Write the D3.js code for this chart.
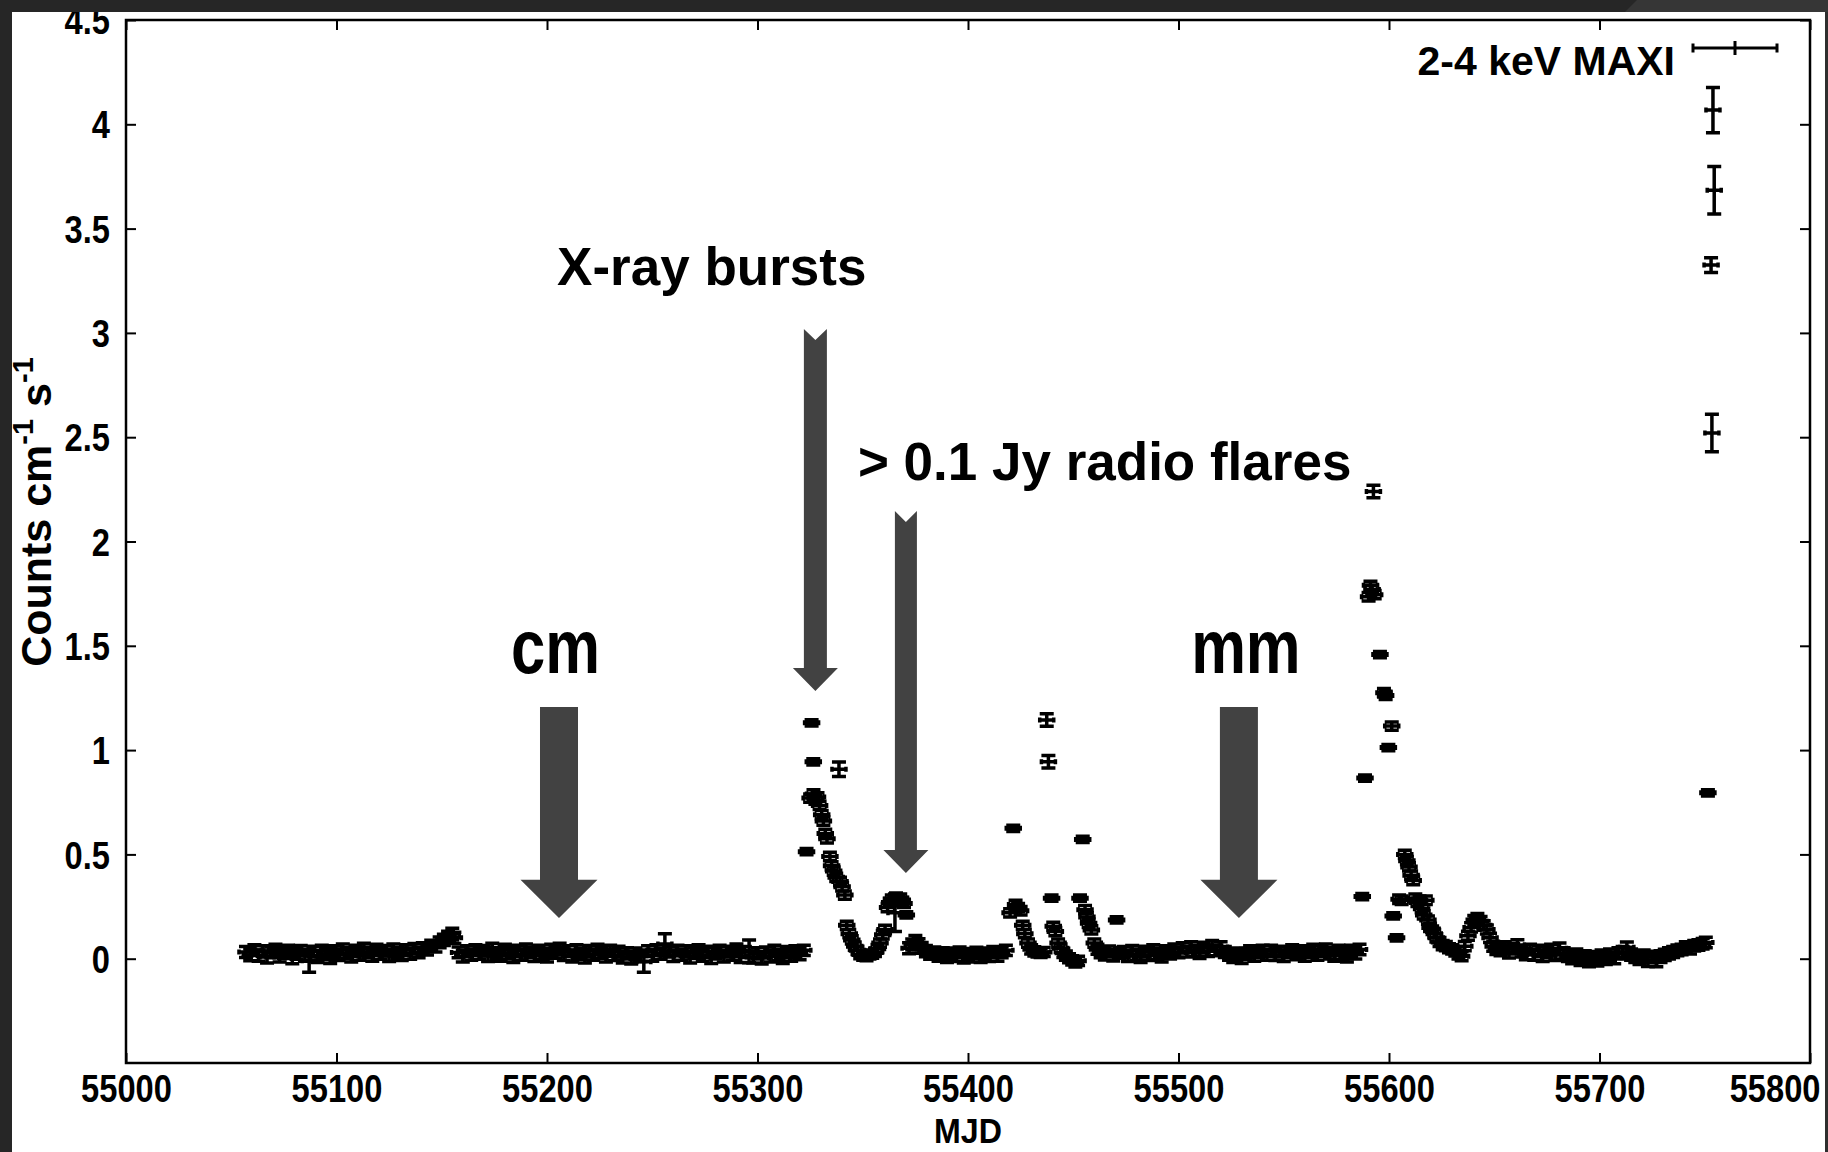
<!DOCTYPE html>
<html>
<head>
<meta charset="utf-8">
<script src="https://cdn.jsdelivr.net/npm/d3@7"></script>
<style>
  body { margin: 0; background: #262626; }
  svg { display: block; }
  text { font-family: "Liberation Sans", Arial, sans-serif; font-weight: bold; fill: #000; }
</style>
</head>
<body>
<svg id="chart"></svg>
<script>
const W = 1828;
const H = 1152;

// [MJD, rate, error]
const quiet1 = [
  [55057, .032, .026], [55059, .018, .028], [55061, .042, .025], [55063, .015, .027],
  [55065, .036, .026], [55067, .008, .029], [55069, .030, .026], [55071, .045, .024],
  [55073, .012, .028], [55075, .028, .027], [55077, .040, .025], [55079, .005, .029],
  [55081, .024, .027], [55083, .038, .025], [55085, .016, .028], [55087, -.010, .055],
  [55089, .034, .026], [55091, .010, .028], [55093, .040, .025], [55095, .022, .027],
  [55097, .006, .029], [55099, .036, .026], [55101, .018, .027], [55103, .046, .024],
  [55105, .026, .026], [55107, .012, .028], [55109, .040, .025], [55111, .020, .027],
  [55113, .050, .024], [55115, .030, .026], [55117, .016, .028], [55119, .044, .025],
  [55121, .024, .027], [55123, .038, .025], [55125, .014, .028], [55127, .046, .025],
  [55129, .028, .026], [55131, .018, .027], [55133, .042, .025], [55135, .024, .027],
  [55137, .048, .025], [55139, .030, .026], [55141, .052, .025], [55143, .044, .026],
  [55145, .064, .025], [55147, .058, .026], [55149, .078, .026], [55151, .090, .027],
  [55153, .104, .027], [55155, .118, .028], [55156, .100, .027], [55158, .030, .026],
  [55160, .012, .028], [55162, .036, .026], [55164, .020, .027], [55166, .042, .025],
  [55168, .024, .027], [55170, .038, .025], [55172, .014, .028], [55174, .052, .022],
  [55176, .028, .026], [55178, .016, .028], [55180, .044, .025], [55182, .026, .027],
  [55184, .010, .028], [55186, .040, .025], [55188, .020, .027], [55190, .046, .025],
  [55192, .030, .026], [55194, .015, .028], [55196, .040, .025], [55198, .024, .027],
  [55200, .012, .028], [55202, .044, .025], [55204, .028, .026], [55206, .050, .024],
  [55208, .018, .027], [55210, .036, .026], [55212, .012, .028], [55214, .042, .025],
  [55216, .024, .027], [55218, .008, .029], [55220, .038, .025], [55222, .020, .027],
  [55224, .044, .025], [55226, .028, .026], [55228, .012, .028], [55230, .040, .025],
  [55232, .018, .027], [55234, .034, .026], [55236, .008, .029], [55238, .026, .027],
  [55240, .004, .029], [55242, .024, .027], [55244, .014, .028], [55246, -.015, .050],
  [55248, .036, .026], [55250, .016, .028], [55252, .042, .025], [55254, .024, .027],
  [55256, .070, .050], [55258, .034, .026], [55260, .014, .028], [55262, .040, .025],
  [55264, .020, .027], [55266, .036, .026], [55268, .008, .029], [55270, .028, .027],
  [55272, .042, .025], [55274, .016, .028], [55276, .034, .026], [55278, .006, .029],
  [55280, .026, .027], [55282, .040, .025], [55284, .012, .028], [55286, .034, .026],
  [55288, .020, .027], [55290, .046, .025], [55292, .010, .028], [55294, .032, .026],
  [55296, .035, .055], [55298, .008, .029], [55300, .026, .027], [55302, .004, .029],
  [55304, .030, .026], [55306, .012, .028], [55308, .040, .025], [55310, .020, .027],
  [55312, .006, .029], [55314, .032, .026], [55316, .016, .028], [55318, .036, .026],
  [55320, .022, .027], [55322, .040, .025]
];

const burst1 = [
  [55323.3, .513, .015], [55325.0, .770, .020], [55325.7, 1.131, .015], [55326.5, .944, .015],
  [55326.6, .790, .020], [55327.5, .760, .020], [55328.5, .775, .020], [55329.5, .735, .020],
  [55330.5, .690, .020], [55331.3, .660, .020], [55332.2, .600, .020], [55333.0, .575, .020],
  [55334.4, .490, .020], [55335.2, .445, .020], [55336.2, .420, .020], [55337.4, .390, .020],
  [55338.7, .908, .035], [55339.2, .370, .020], [55340.2, .345, .020], [55341.5, .305, .020],
  [55342.4, .160, .020], [55343.6, .120, .020], [55344.8, .090, .020], [55346.2, .060, .020],
  [55347.5, .040, .020], [55348.8, .020, .020], [55350.2, .012, .020], [55351.8, .010, .020],
  [55353.2, .018, .020], [55354.5, .022, .020], [55355.8, .030, .020], [55357.0, .048, .020],
  [55358.2, .075, .020], [55359.5, .115, .020], [55360.6, .140, .020], [55361.8, .245, .020],
  [55362.8, .270, .020], [55363.8, .285, .020], [55365.3, .220, .090], [55365.8, .295, .020],
  [55366.8, .280, .020], [55367.8, .290, .020], [55368.8, .275, .020], [55369.6, .265, .020],
  [55370.7, .210, .015]
];

const quiet2 = [
  [55372.0, .050, .026], [55373.5, .068, .026], [55375, .085, .026], [55376.5, .070, .026],
  [55378, .052, .026], [55380, .036, .027], [55382, .024, .027], [55384, .030, .026],
  [55386, .016, .028], [55388, .026, .027], [55390, .010, .028], [55392, .024, .027],
  [55394, .014, .028], [55396, .030, .026], [55398, .008, .029], [55400, .022, .027],
  [55402, .012, .028], [55404, .028, .027], [55406, .010, .028], [55408, .024, .027],
  [55410, .014, .028], [55412, .032, .026], [55414, .016, .028], [55416, .030, .026],
  [55418, .040, .025]
];

const flares = [
  [55420.0, .220, .020], [55421.5, .625, .015], [55422.6, .260, .020], [55423.8, .245, .020],
  [55425.0, .230, .020], [55426.0, .160, .020], [55427.0, .120, .020], [55428.5, .075, .020],
  [55430, .045, .022], [55431.5, .035, .022], [55433, .030, .022], [55434.5, .028, .022],
  [55436, .032, .022], [55437.4, 1.144, .030], [55438.2, .944, .030], [55439.7, .290, .015],
  [55440.5, .155, .020], [55441.5, .130, .020], [55442.8, .075, .020], [55444, .050, .020],
  [55445.3, .028, .022], [55446.5, .015, .022], [55448, .002, .022], [55449.5, -.008, .022],
  [55451, -.018, .022], [55452.3, -.010, .022], [55453.2, .290, .015], [55454.5, .572, .015],
  [55455.6, .235, .020], [55456.5, .200, .020], [55457.3, .170, .020], [55458.6, .138, .020],
  [55460, .075, .020], [55461.5, .045, .024], [55463, .030, .025], [55465, .020, .026],
  [55467, .036, .025], [55469, .016, .027], [55470.6, .186, .015], [55472, .028, .026]
];

const quiet3 = [
  [55474, .032, .026], [55476, .014, .028], [55478, .038, .025], [55480, .020, .027],
  [55482, .010, .028], [55484, .034, .026], [55486, .018, .027], [55488, .042, .025],
  [55490, .024, .027], [55492, .012, .028], [55494, .036, .026], [55496, .026, .027],
  [55498, .046, .025], [55500, .030, .026], [55502, .052, .025], [55504, .034, .026],
  [55506, .056, .025], [55508, .038, .026], [55510, .028, .027], [55512, .054, .025],
  [55514, .036, .026], [55516, .062, .025], [55518, .040, .026], [55520, .056, .025],
  [55522, .032, .026], [55524, .020, .027], [55526, .010, .028], [55528, .024, .027],
  [55530, .006, .029], [55532, .022, .027], [55534, .036, .026], [55536, .016, .028],
  [55538, .030, .026], [55540, .040, .025], [55542, .020, .027], [55544, .038, .026],
  [55546, .018, .027], [55548, .034, .026], [55550, .014, .028], [55552, .030, .026],
  [55554, .042, .025], [55556, .022, .027], [55558, .036, .026], [55560, .016, .028],
  [55562, .032, .026], [55564, .044, .025], [55566, .020, .027], [55568, .036, .026],
  [55570, .046, .025], [55572, .026, .027], [55574, .016, .028], [55576, .040, .025],
  [55578, .024, .027], [55580, .012, .028], [55582, .038, .026], [55584, .026, .027],
  [55586, .044, .025]
];

const burst2 = [
  [55587.3, .298, .015], [55588.6, .866, .015], [55590.3, 1.735, .020], [55591.2, 1.790, .020],
  [55592.0, 1.770, .020], [55592.6, 2.240, .030], [55593.2, 1.745, .020], [55595.7, 1.458, .015],
  [55597.6, 1.275, .020], [55598.4, 1.262, .020], [55599.7, 1.012, .015], [55601.3, 1.115, .020],
  [55602.0, .205, .015], [55603.6, .100, .015], [55604.8, .285, .020], [55606, .280, .020],
  [55607.5, .500, .020], [55608.5, .470, .020], [55609.5, .440, .020], [55610.5, .400, .020],
  [55611.5, .375, .020], [55612.5, .290, .020], [55613.5, .270, .020], [55614.5, .280, .020],
  [55615.5, .240, .020], [55616.5, .210, .020], [55617.5, .280, .020], [55618.5, .185, .020],
  [55619.5, .150, .020], [55620.5, .142, .015], [55621.5, .120, .020], [55622.5, .100, .020],
  [55624, .080, .022], [55625.5, .065, .022], [55627, .060, .022], [55628.5, .050, .022],
  [55630, .045, .022], [55631.5, .035, .022], [55633, .020, .022], [55634.5, .012, .022],
  [55636, .060, .022], [55637.5, .110, .022], [55639, .150, .022], [55640.5, .185, .022],
  [55642, .195, .022], [55643.5, .180, .022], [55645, .160, .022], [55646.5, .140, .022],
  [55648, .100, .022], [55649.5, .060, .024], [55651, .045, .025]
];

const tail = [
  [55653, .040, .026], [55655, .056, .025], [55657, .030, .027], [55659, .048, .025],
  [55661, .066, .025], [55663, .034, .026], [55665, .022, .027], [55667, .044, .025],
  [55669, .020, .027], [55671, .038, .026], [55673, .014, .028], [55675, .030, .026],
  [55677, .044, .025], [55679, .018, .027], [55681, .050, .025], [55683, .026, .027],
  [55685, .014, .028], [55687, .004, .028], [55689, .020, .027], [55691, -.004, .028],
  [55693, .010, .028], [55695, -.010, .029], [55697, .006, .028], [55699, -.006, .029],
  [55701, .014, .028], [55703, .000, .028], [55705, .020, .027], [55707, .004, .028],
  [55709, .026, .027], [55711, .032, .026], [55713, .055, .025], [55715, .020, .027],
  [55717, .010, .028], [55719, .000, .028], [55721, .014, .028], [55723, -.008, .029],
  [55725, .008, .028], [55727, -.010, .029], [55729, .010, .028], [55731, .018, .027],
  [55733, .026, .027], [55735, .032, .026], [55737, .040, .026], [55739, .044, .025],
  [55741, .056, .025], [55743, .048, .025], [55745, .062, .025], [55747, .066, .025],
  [55749, .072, .025], [55750.5, .078, .025]
];

const outburst = [
  [55751.5, .795, .015], [55753.4, 2.520, .090], [55753.0, 3.325, .035],
  [55753.9, 4.068, .109], [55754.5, 3.684, .114]
];

const xTicks = [55000, 55100, 55200, 55300, 55400, 55500, 55600, 55700, 55800];
const yTicks = [0, 0.5, 1, 1.5, 2, 2.5, 3, 3.5, 4, 4.5];

// annotation arrows, in data units
const arrows = [
  { t: 55327.5, top: 3.019, neck: 1.394, tip: 1.283, shaft: 11.5, head: 22.5, notch: 11 },
  { t: 55370.5, top: 2.146, neck: 0.521, tip: 0.411, shaft: 11, head: 22.5, notch: 11 },
  { t: 55205.7, top: 1.207, neck: 0.378, tip: 0.195, shaft: 19, head: 38.5, notch: 0 },
  { t: 55528.7, top: 1.207, neck: 0.378, tip: 0.195, shaft: 19, head: 38.5, notch: 0 }
];

const svg = d3.select('#chart').attr('width', W).attr('height', H);

const x = d3.scaleLinear().domain([55000, 55800]).range([126, 1810]);
const y = d3.scaleLinear().domain([-0.5, 4.5]).range([1063, 20]);

// white page
svg.append('rect')
  .attr('x', 12).attr('y', 12)
  .attr('width', 1813).attr('height', H - 12)
  .attr('fill', '#fff');

// arrows first, data sits on top
svg.append('g')
  .selectAll('polygon')
  .data(arrows)
  .join('polygon')
  .attr('fill', '#424242')
  .attr('points', d => {
    const cx = x(d.t);
    const yt = y(d.top), yn = y(d.neck), yp = y(d.tip);
    return [
      [cx - d.shaft, yt], [cx, yt + d.notch], [cx + d.shaft, yt],
      [cx + d.shaft, yn], [cx + d.head, yn], [cx, yp],
      [cx - d.head, yn], [cx - d.shaft, yn]
    ].join(' ');
  });

// axes
const axisStyle = g => {
  g.select('.domain').remove();
  g.selectAll('.tick line').attr('stroke', '#000').attr('stroke-width', 2);
};

const narrow = 0.86;

svg.append('g')
  .attr('transform', 'translate(0,1063)')
  .call(d3.axisBottom(x).tickValues(xTicks).tickSize(-10).tickFormat(d3.format('d')))
  .call(axisStyle)
  .call(g => g.selectAll('.tick text')
    .attr('y', 39).attr('dy', 0)
    .attr('font-size', 38)
    .attr('fill', '#000')
    .attr('font-family', '"Liberation Sans", Arial, sans-serif')
    .attr('font-weight', 'bold')
    .attr('transform', `scale(${narrow},1)`))
  .call(g => g.selectAll('.tick:last-of-type text')
    .attr('text-anchor', 'end')
    .attr('x', 10 / narrow));

svg.append('g')
  .attr('transform', 'translate(0,20)')
  .call(d3.axisTop(x).tickValues(xTicks).tickSize(-10).tickFormat(''))
  .call(axisStyle);

svg.append('g')
  .attr('transform', 'translate(126,0)')
  .call(d3.axisLeft(y).tickValues(yTicks).tickSize(-10).tickFormat(d => String(d)))
  .call(axisStyle)
  .call(g => g.selectAll('.tick text')
    .attr('x', -16 / narrow).attr('dy', '0.36em')
    .attr('font-size', 38)
    .attr('fill', '#000')
    .attr('font-family', '"Liberation Sans", Arial, sans-serif')
    .attr('font-weight', 'bold')
    .attr('transform', `scale(${narrow},1)`));

svg.append('g')
  .attr('transform', 'translate(1810,0)')
  .call(d3.axisRight(y).tickValues(yTicks).tickSize(-10).tickFormat(''))
  .call(axisStyle);

// frame
svg.append('rect')
  .attr('x', x(55000)).attr('y', y(4.5))
  .attr('width', x(55800) - x(55000))
  .attr('height', y(-0.5) - y(4.5))
  .attr('fill', 'none')
  .attr('stroke', '#000')
  .attr('stroke-width', 2.5);

// error bar points
const cap = 7;
const xbar = 7;
const xcap = 2.5;
const errBar = (cx, cy, lo, hi) =>
  `M${cx},${lo}V${hi}` +
  `M${cx - cap},${lo}H${cx + cap}M${cx - cap},${hi}H${cx + cap}` +
  `M${cx - xbar},${cy}H${cx + xbar}` +
  `M${cx - xbar},${cy - xcap}V${cy + xcap}M${cx + xbar},${cy - xcap}V${cy + xcap}`;

const points = [].concat(quiet1, burst1, quiet2, flares, quiet3, burst2, tail, outburst)
  .map(([t, v, e]) => ({ t, v, e }));

svg.append('g')
  .selectAll('path')
  .data(points)
  .join('path')
  .attr('d', d => errBar(x(d.t), y(d.v), y(d.v - d.e), y(d.v + d.e)))
  .attr('fill', 'none')
  .attr('stroke', '#000')
  .attr('stroke-width', 3.5);

// legend
svg.append('text')
  .attr('x', 1675).attr('y', 75)
  .attr('text-anchor', 'end')
  .attr('font-size', 41)
  .text('2-4 keV MAXI');

svg.append('path')
  .attr('d', 'M1693,48H1777M1693,43.5V52.5M1777,43.5V52.5M1735,41V55')
  .attr('fill', 'none')
  .attr('stroke', '#000')
  .attr('stroke-width', 3);

// annotation labels
svg.append('text')
  .attr('x', x(55204.8)).attr('y', y(3.229))
  .attr('font-size', 53)
  .text('X-ray bursts');

svg.append('text')
  .attr('x', x(55347.7)).attr('y', y(2.295))
  .attr('font-size', 53)
  .text('> 0.1 Jy radio flares');

[['cm', 55182.9], ['mm', 55506]].forEach(([label, t]) => {
  svg.append('text')
    .attr('transform', `translate(${x(t)},${y(1.37)}) scale(0.81,1)`)
    .attr('font-size', 76)
    .text(label);
});

// axis titles
svg.append('text')
  .attr('transform', 'translate(968,1143) scale(0.92,1)')
  .attr('text-anchor', 'middle')
  .attr('font-size', 35)
  .text('MJD');

const ylab = svg.append('text')
  .attr('transform', 'translate(51,512) rotate(-90)')
  .attr('text-anchor', 'middle')
  .attr('font-size', 43);
ylab.append('tspan').text('Counts cm');
ylab.append('tspan').attr('dy', -18).attr('font-size', 29).text('-1');
ylab.append('tspan').attr('dy', 18).text(' s');
ylab.append('tspan').attr('dy', -18).attr('font-size', 29).text('-1');

// dark borders of the photographed slide
svg.append('rect').attr('x', 0).attr('y', 0).attr('width', W).attr('height', 12).attr('fill', '#262626');
svg.append('polygon').attr('points', '1637,0 1828,0 1828,12 1625,12').attr('fill', '#363636');
svg.append('rect').attr('x', 0).attr('y', 0).attr('width', 12).attr('height', H).attr('fill', '#262626');
svg.append('rect').attr('x', 1825).attr('y', 12).attr('width', 3).attr('height', H).attr('fill', '#2e2e2e');
</script>
</body>
</html>
